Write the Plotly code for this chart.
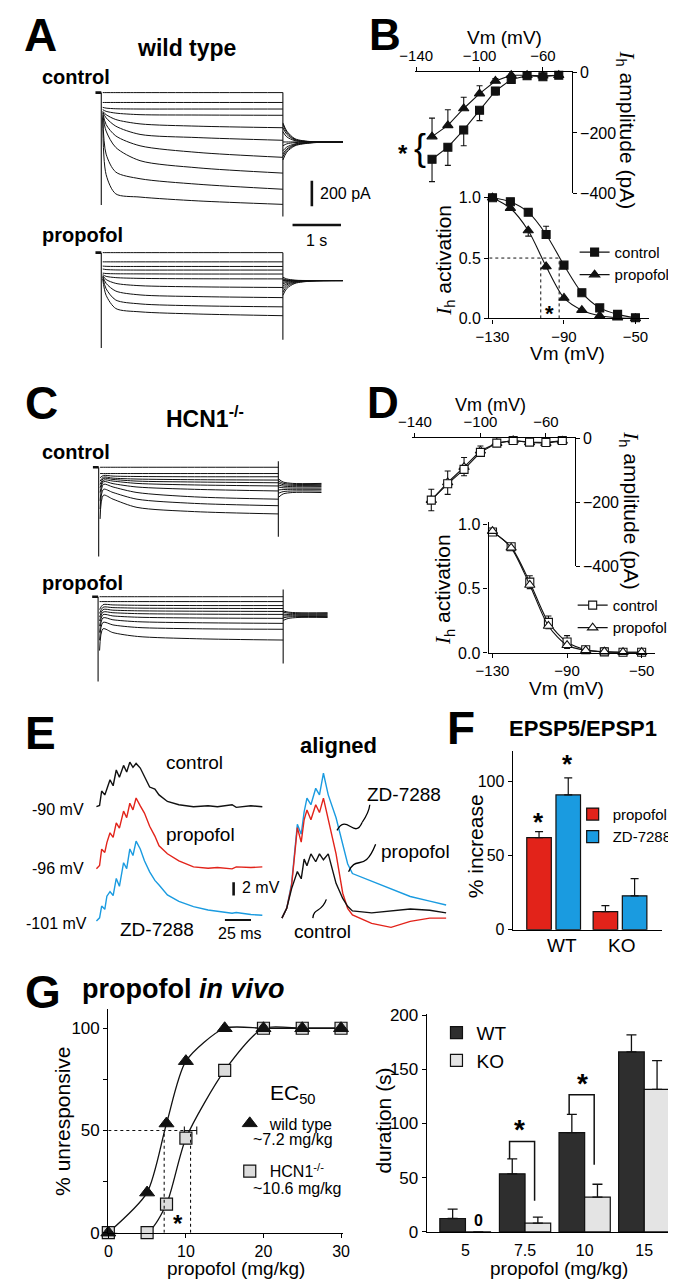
import plotly.graph_objects as go

W, H = 676, 1280
SANS = "Liberation Sans, Arial, Helvetica, sans-serif"
BLACK = "#111111"
RED = "#e2231a"
BLUE = "#1a9be0"
DARK = "#2e2e2e"
LIGHT = "#e4e4e4"

# ======================= DATA =======================
# --- A / C : whole-cell current traces (pA) at knot times (s) after step onset
STEP_DUR = 3.75
trace_t = [0.03, 0.1, 0.3, 0.8, 2.0, 3.75]
A_ctrl = [
    [0, 0, 0, 0, 0, 0],
    [-77, -77, -77, -77, -77, -77],
    [-115, -121, -126, -128, -128, -128],
    [-133, -146, -160, -172, -175, -177],
    [-146, -172, -210, -244, -262, -274],
    [-151, -197, -262, -326, -351, -372],
    [-159, -249, -338, -415, -467, -505],
    [-172, -300, -428, -531, -587, -628],
    [-185, -480, -620, -672, -715, -754],
    [-197, -640, -790, -815, -845, -872],
]
A_prop = [
    [0, 0, 0, 0, 0, 0],
    [-72, -72, -72, -72, -72, -72],
    [-105, -107, -108, -108, -108, -108],
    [-128, -132, -135, -136, -136, -136],
    [-160, -163, -165, -166, -167, -167],
    [-172, -185, -195, -201, -204, -205],
    [-180, -210, -240, -258, -267, -272],
    [-185, -240, -300, -330, -343, -351],
    [-192, -282, -370, -400, -415, -423],
    [-205, -333, -436, -462, -479, -492],
]
C_ctrl = [
    [0, 0, 0, 0, 0, 0],
    [-49, -49, -49, -49, -49, -49],
    [-82, -64, -69, -72, -74, -74],
    [-108, -77, -85, -92, -97, -100],
    [-133, -87, -95, -108, -115, -121],
    [-159, -100, -108, -126, -138, -146],
    [-197, -113, -128, -154, -172, -185],
    [-262, -133, -154, -197, -231, -249],
    [-326, -172, -197, -249, -282, -300],
    [-403, -218, -249, -313, -346, -364],
]
C_prop = [
    [0, 0, 0, 0, 0, 0],
    [-38, -38, -38, -38, -38, -38],
    [-100, -62, -64, -67, -69, -69],
    [-130, -82, -85, -89, -91, -92],
    [-160, -100, -105, -110, -113, -115],
    [-190, -120, -125, -132, -136, -138],
    [-230, -140, -150, -160, -166, -169],
    [-280, -165, -180, -195, -203, -208],
    [-340, -200, -220, -240, -250, -254],
    [-420, -250, -280, -310, -328, -338],
]
# tail currents after the step (s after step end, pA)
tail_t_A = [0, 0.08, 0.25, 0.6, 1.24]
A_ctrl_tail = [
    [-236, -300, -360, -383, -385],
    [-249, -310, -365, -384, -385],
    [-274, -325, -370, -384, -385],
    [-305, -345, -375, -385, -385],
    [-385, -385, -385, -385, -385],
    [-415, -400, -390, -386, -385],
    [-454, -425, -400, -388, -385],
    [-479, -440, -405, -390, -385],
    [-500, -452, -410, -390, -385],
    [-526, -465, -415, -392, -385],
]
A_prop_tail = [
    [-192, -205, -215, -218, -218],
    [-205, -212, -217, -218, -218],
    [-213, -216, -218, -218, -218],
    [-218, -218, -218, -218, -218],
    [-231, -225, -220, -218, -218],
    [-244, -232, -222, -219, -218],
    [-262, -242, -226, -219, -218],
    [-282, -252, -230, -220, -218],
    [-308, -265, -235, -221, -218],
    [-333, -280, -240, -222, -218],
]
tail_t_C = [0, 0.1, 0.3, 0.9]
C_ctrl_tail = [
    [-90, -115, -126, -126],
    [-108, -125, -133, -133],
    [-121, -136, -141, -141],
    [-138, -147, -151, -151],
    [-154, -160, -162, -162],
    [-177, -174, -172, -172],
    [-203, -190, -185, -185],
    [-236, -208, -197, -197],
]
C_prop_tail = [
    [-110, -120, -125, -125],
    [-120, -128, -132, -132],
    [-135, -139, -140, -140],
    [-150, -149, -148, -148],
    [-165, -158, -155, -155],
    [-185, -170, -162, -162],
]
# capacitive transients (pA): onset minimum, offset top, offset bottom  [A ctrl, A prop, C ctrl, C prop]
cap_onset = [-877, -744, -697, -662]
cap_off_top = [0, 0, 46, 56]
cap_off_bot = [-966, -680, -543, -521]
SCALE_A = (1.0, 200)  # s, pA

# --- B / D : I-V and activation
Vm = [-130, -120, -110, -100, -90, -80, -70, -60, -50]
B_iv_ctrl = [-287, -247, -190, -125, -61, -23, -11, -14, -9]
B_iv_ctrl_err = [74, 60, 52, 34, 13, 5, 3, 3, 3]
B_iv_prop = [-212, -175, -119, -70, -28, -9, -9, -11, -9]
B_iv_prop_err = [61, 52, 37, 26, 8, 3, 3, 3, 3]
B_act_ctrl = [1.0, 0.967, 0.880, 0.695, 0.441, 0.213, 0.087, 0.033, 0.005]
B_act_ctrl_err = [0, 0.01, 0.027, 0.068, 0.01, 0, 0, 0, 0]
B_act_prop = [1.0, 0.913, 0.728, 0.43, 0.169, 0.068, 0.022, 0.005, 0.0]
B_act_prop_err = [0, 0.01, 0.046, 0.02, 0.01, 0, 0, 0, 0]
B_vhalf = [-92.7, -103.0]

D_iv_ctrl = [-193, -142, -97, -44, -15, -7, -12, -13, -7]
D_iv_ctrl_err = [33, 33, 20, 10, 5, 3, 3, 3, 3]
D_iv_prop = [-193, -138, -90, -39, -15, -7, -13, -15, -8]
D_iv_prop_err = [34, 36, 30, 15, 5, 3, 3, 3, 3]
D_act_ctrl = [0.944, 0.828, 0.552, 0.238, 0.085, 0.025, 0.008, 0.005, 0.005]
D_act_ctrl_err = [0.01, 0.01, 0.05, 0.05, 0.05, 0.01, 0.03, 0.01, 0.01]
D_act_prop = [0.95, 0.82, 0.53, 0.21, 0.06, 0.02, 0.01, 0.005, 0.005]

# --- E : EPSP trains (ms, mV above baseline)
t_E = [0, 3, 5, 8, 10, 13, 16, 19, 22, 26, 29, 32, 35, 38, 42, 46, 51, 56, 60, 68, 79, 93, 107, 116, 130, 134, 148, 159]
E_ctrl = [0, 0.2, 2.4, 1.8, 2.7, 4.1, 3.2, 5.6, 4.5, 6.3, 5.3, 6.8, 6.0, 6.6, 5.9, 4.5, 3.0, 2.7, 1.8, 0.8, 0.3, 0, 0.15, 0, 0.3, -0.1, 0.15, 0]
E_prop = [0, 0.5, 3.0, 2.5, 4.0, 5.5, 4.8, 7.0, 6.2, 8.8, 7.8, 10.0, 9.0, 10.8, 9.6, 8.5, 6.5, 5.0, 3.5, 2.3, 1.2, 0.3, 0.1, 0.2, 0.0, 0.3, 0.2, 0.3]
E_zd = [0, 0.5, 2.3, 1.8, 3.8, 4.5, 3.9, 6.5, 5.3, 8.9, 8.0, 11.0, 10.0, 12.2, 11.0, 9.2, 7.5, 6.2, 5.5, 4.0, 3.0, 2.2, 1.7, 1.5, 1.2, 1.3, 1.0, 0.9]
E_labels = ["-90 mV", "-96 mV", "-101 mV"]
t_al = [0, 4.6, 9.3, 14.8, 18.5, 21.3, 24, 27.8, 32.4, 36, 39.8, 44.4, 51.9, 58.3, 63, 67.6, 86, 104.6, 123, 141.7, 157.4]
Al_zd = [0, 1.5, 5.3, 14.3, 12.8, 16.2, 18.3, 17.3, 19.8, 18.8, 22.1, 18.8, 15.3, 11.3, 8.3, 6.8, 5.6, 4.5, 3.3, 2.6, 2.0]
Al_prop = [0, 1.5, 5.0, 13.8, 11.6, 15.0, 16.5, 15.0, 17.3, 16.1, 18.3, 15.0, 9.8, 3.8, 1.5, 0.5, -0.8, -1.4, -0.5, 0, 0]
Al_ctrl = [0, 1.5, 4.5, 7.1, 6.0, 9.0, 8.0, 9.8, 8.6, 9.8, 8.9, 9.8, 5.3, 3.0, 1.8, 1.1, 0.8, 1.1, 1.4, 1.2, 0.8]
SCALE_E = (25, 2)  # ms, mV

# --- F : EPSP5/EPSP1 % increase
F_groups = ["WT", "KO"]
F_prop = [62.2, 12.2]
F_prop_err = [4.1, 4.0]
F_zd = [91.1, 22.9]
F_zd_err = [11.6, 11.6]

# --- G : propofol in vivo
dose = [0, 5, 7.5, 10, 15, 20, 25, 30]
G_wt = [0, 19.6, 53.4, 83.9, 100, 100, 100, 100]
G_ko = [0, 0, 14, 46.2, 79.4, 100, 100, 100]
EC50 = [7.2, 10.6]
EC50_ko_err = 0.8
dur_doses = ["5", "7.5", "10", "15"]
dur_wt = [12.4, 53.6, 91.5, 166]
dur_wt_err = [8.6, 13.7, 17.0, 15.8]
dur_ko = [0, 8.2, 32.1, 131.5]
dur_ko_err = [0, 5.4, 11.9, 26.5]
sig_top = [83.3, 126.4]        # bracket heights (s)
sig_right_low = [28.7, 62.0]   # bracket right-leg ends (s)

# ======================= FIGURE =======================
fig = go.Figure()
layout = dict(width=W, height=H, margin=dict(l=0, r=0, t=0, b=0),
              paper_bgcolor="white", plot_bgcolor="rgba(0,0,0,0)",
              font=dict(family=SANS, color="black", size=16),
              hovermode=False, showlegend=True, barmode="overlay")
annotations, shapes = [], []
n_ax = [0]


def new_axes(box, xr, yr, xa=None, ya=None):
    n_ax[0] += 1
    i = n_ax[0]
    s = "" if i == 1 else str(i)
    x0, y0, x1, y1 = box
    xd = dict(domain=[x0 / W, x1 / W], range=xr, anchor="y" + s, visible=False, fixedrange=True)
    yd = dict(domain=[1 - y1 / H, 1 - y0 / H], range=yr, anchor="x" + s, visible=False, fixedrange=True)
    if xa:
        xd.update(xa)
    if ya:
        yd.update(ya)
    layout["xaxis" + s] = xd
    layout["yaxis" + s] = yd
    return "x" + s, "y" + s


def lin(p0, p1, ref_p, ref_v, ppu):
    return [ref_v + (p0 - ref_p) / ppu, ref_v + (p1 - ref_p) / ppu]


def liny(top, bottom, ref_p, ref_v, ppu):
    return [ref_v + (ref_p - bottom) / ppu, ref_v + (ref_p - top) / ppu]


def axstyle(size=15, **kw):
    d = dict(visible=True, showline=True, linecolor="black", linewidth=1.3, ticks="outside",
             ticklen=4, tickwidth=1.2, tickcolor="black", showgrid=False, zeroline=False,
             tickfont=dict(size=size, family=SANS, color="black"))
    d.update(kw)
    return d


def line(xr, yr, x, y, color=BLACK, width=1.0, shape="linear", smoothing=1.0):
    fig.add_trace(go.Scatter(x=x, y=y, xaxis=xr, yaxis=yr, mode="lines",
                             line=dict(color=color, width=width, shape=shape, smoothing=smoothing),
                             hoverinfo="skip", showlegend=False, cliponaxis=False))


def txt(x, y, s, size=16, bold=False, xanchor="center", yanchor="middle", angle=0, family=SANS):
    if bold:
        s = "<b>" + s + "</b>"
    annotations.append(dict(x=x / W, y=1 - y / H, xref="paper", yref="paper", text=s, showarrow=False,
                            xanchor=xanchor, yanchor=yanchor, textangle=angle,
                            font=dict(size=size, color="black", family=family)))


def pp(x, y):
    return f"{x / W:.5f},{1 - y / H:.5f}"


def squiggle(pts):
    (a, b, c, d) = pts
    shapes.append(dict(type="path", xref="paper", yref="paper",
                       path=f"M {pp(*a)} C {pp(*b)} {pp(*c)} {pp(*d)}",
                       line=dict(color="black", width=1.3)))


PPU_PA = 0.13  # px per pA


def current_panel(box, t0_px, tend_px, base_py, steps, tails, tail_t, k):
    ppu_t = (tend_px - t0_px) / STEP_DUR
    xr, yr = new_axes(box, lin(box[0], box[2], t0_px, 0, ppu_t), liny(box[1], box[3], base_py, 0, PPU_PA))
    xs, ys = [], []
    for v in steps:
        xs += list(trace_t) + [None]
        ys += list(v) + [None]
    for v in tails:
        xs += [STEP_DUR + t for t in tail_t] + [None]
        ys += list(v) + [None]
    line(xr, yr, xs, ys, width=1.0, shape="spline", smoothing=0.8)
    line(xr, yr, [0, 0, None, STEP_DUR, STEP_DUR],
         [0, cap_onset[k], None, cap_off_top[k], cap_off_bot[k]], width=1.1)
    line(xr, yr, [-0.12, 0], [0, 0], width=2.6)
    return xr, yr, ppu_t


# ---- Panel A
ax, ay, ppu = current_panel((55, 60, 340, 215), 80, 268, 77.7, A_ctrl, A_ctrl_tail, tail_t_A, 0)
sb_t = (298 - 80) / ppu
sb_v = (77.7 - 167) / PPU_PA
line(ax, ay, [sb_t, sb_t], [sb_v, sb_v - SCALE_A[1]], width=2.6)
sh_t = (278 - 80) / ppu
sh_v = (77.7 - 212) / PPU_PA
line(ax, ay, [sh_t, sh_t + SCALE_A[0]], [sh_v, sh_v], width=2.6)
current_panel((55, 232, 340, 340), 80, 268, 240, A_prop, A_prop_tail, tail_t_A, 1)
txt(17, 19, "A", 46, True)
txt(168, 32, "wild type", 23, True)
txt(17, 62, "control", 20, True, xanchor="left")
txt(17, 222, "propofol", 20, True, xanchor="left")
txt(304, 180, "200 pA", 16, xanchor="left")
txt(303, 228, "1 s", 16)

# ---- Panel C
current_panel((55, 440, 340, 560), 77.3, 263.3, 457.7, C_ctrl, C_ctrl_tail, tail_t_C, 2)
current_panel((55, 575, 340, 680), 76.7, 268.3, 589, C_prop, C_prop_tail, tail_t_C, 3)
txt(18, 393, "C", 46, True)
txt(187, 407, "HCN1<sup>-/-</sup>", 23, True)
txt(17, 442, "control", 20, True, xanchor="left")
txt(17, 575, "propofol", 20, True, xanchor="left")

IH = "<span style=\"font-family:Liberation Serif\"><i>I</i></span><sub>h</sub>"


def iv_panel(box, ref_px, ppu_x, ctrl, ctrl_err, prop, prop_err, filled):
    xr, yr = new_axes(box, lin(box[0], box[2], ref_px, -140, ppu_x), [-400, 0],
                      xa=axstyle(side="top", tickvals=[-140, -100, -60]),
                      ya=axstyle(side="right", tickvals=[0, -200, -400], size=16))
    zeros = [0] * len(Vm)
    fill = BLACK if filled else "white"
    fig.add_trace(go.Scatter(x=Vm, y=prop, xaxis=xr, yaxis=yr, mode="lines+markers",
                             line=dict(color=BLACK, width=1.1),
                             marker=dict(symbol="triangle-up", size=9,
                                         color=fill, line=dict(width=1.1, color=BLACK)),
                             error_y=dict(type="data", symmetric=False, array=prop_err, arrayminus=zeros,
                                          color=BLACK, thickness=1.1, width=3),
                             showlegend=False, cliponaxis=False, hoverinfo="skip"))
    fig.add_trace(go.Scatter(x=Vm, y=ctrl, xaxis=xr, yaxis=yr, mode="lines+markers",
                             line=dict(color=BLACK, width=1.1),
                             marker=dict(symbol="square", size=8,
                                         color=fill, line=dict(width=1.1, color=BLACK)),
                             error_y=dict(type="data", symmetric=False, array=zeros, arrayminus=ctrl_err,
                                          color=BLACK, thickness=1.1, width=3),
                             showlegend=False, cliponaxis=False, hoverinfo="skip"))


def act_panel(box, ppu_x, y_top, ctrl, ctrl_up, ctrl_dn, prop, prop_up, prop_dn, filled, leg):
    xr, yr = new_axes(box, lin(box[0], box[2], 485, -130, ppu_x), [0, y_top],
                      xa=axstyle(tickvals=[-130, -90, -50]),
                      ya=axstyle(tickvals=[0, 0.5, 1.0], tickformat=".1f", size=16))
    fill = BLACK if filled else "white"
    fig.add_trace(go.Scatter(x=Vm, y=ctrl, xaxis=xr, yaxis=yr, mode="lines+markers", name="control",
                             legend=leg, legendrank=1,
                             line=dict(color=BLACK, width=1.1, shape="spline", smoothing=0.8),
                             marker=dict(symbol="square", size=8, color=fill, line=dict(width=1.1, color=BLACK)),
                             error_y=dict(type="data", symmetric=False, array=ctrl_up, arrayminus=ctrl_dn,
                                          color=BLACK, thickness=1.1, width=3),
                             cliponaxis=False, hoverinfo="skip"))
    fig.add_trace(go.Scatter(x=Vm, y=prop, xaxis=xr, yaxis=yr, mode="lines+markers", name="propofol",
                             legend=leg, legendrank=2,
                             line=dict(color=BLACK, width=1.1, shape="spline", smoothing=0.8),
                             marker=dict(symbol="triangle-up", size=9, color=fill, line=dict(width=1.1, color=BLACK)),
                             error_y=dict(type="data", symmetric=False, array=prop_up, arrayminus=prop_dn,
                                          color=BLACK, thickness=1.1, width=3),
                             cliponaxis=False, hoverinfo="skip"))
    return xr, yr


zeros9 = [0] * 9
# ---- Panel B
iv_panel((405, 57.3, 567, 180), 406, 1.64, B_iv_ctrl, B_iv_ctrl_err, B_iv_prop, B_iv_prop_err, True)
bxr, byr = act_panel((481.7, 182, 646.7, 306.7), 1.85, (306.7 - 182) / 122.4, B_act_ctrl, B_act_ctrl_err, zeros9,
                     B_act_prop, zeros9, B_act_prop_err, True, "legend")
x_axis_left = layout["xaxis" + bxr[1:]]["range"][0]
for d in [dict(x0=x_axis_left, x1=B_vhalf[0], y0=0.5, y1=0.5),
          dict(x0=B_vhalf[0], x1=B_vhalf[0], y0=0, y1=0.5),
          dict(x0=B_vhalf[1], x1=B_vhalf[1], y0=0, y1=0.5)]:
    shapes.append(dict(type="line", xref=bxr, yref=byr, line=dict(color=BLACK, width=1, dash="dot"), **d))
txt(374, 19, "B", 44, True)
txt(497, 22, "Vm (mV)", 19)
txt(623, 116, IH + " amplitude (pA)", 21, angle=90)
txt(435, 248, IH + " activation", 21, angle=-90)
txt(563, 342, "Vm (mV)", 19)
txt(392, 139, "*", 24, True)
txt(410, 133, "{", 36)
txt(544, 302, "*", 22, True)

# ---- Panel D
iv_panel((401.7, 428.3, 570, 558.3), 404.7, 1.695, D_iv_ctrl, D_iv_ctrl_err, D_iv_prop, D_iv_prop_err, False)
dxr, dyr = act_panel((481, 513, 653.3, 646), 1.93, (646 - 513) / 130, D_act_ctrl, D_act_ctrl_err, D_act_ctrl_err,
                     D_act_prop, zeros9, zeros9, False, "legend2")
txt(372, 392, "D", 44, True)
txt(483, 395, "Vm (mV)", 18)
txt(627, 502, IH + " amplitude (pA)", 21, angle=90)
txt(435, 582, IH + " activation", 21, angle=-90)
txt(562, 682, "Vm (mV)", 19)

# ---- Panel E
PPU_MS, PPU_MV = 1.08, 6.65
exr, eyr = new_axes((66, 745, 258, 935), lin(66, 258, 75, 0, PPU_MS), liny(745, 935, 918, 0, PPU_MV))
off_ctrl = (918 - 802) / PPU_MV
off_prop = (918 - 865) / PPU_MV
line(exr, eyr, t_E, [v + off_ctrl for v in E_ctrl], BLACK, 1.4)
line(exr, eyr, t_E, [v + off_prop for v in E_prop], RED, 1.4)
line(exr, eyr, t_E, E_zd, BLUE, 1.4)
sv_t = (217 - 75) / PPU_MS
sv_v = (918 - 892) / PPU_MV
line(exr, eyr, [sv_t, sv_t], [sv_v, sv_v + SCALE_E[1]], BLACK, 2.6)
sh_t = (208 - 75) / PPU_MS
sh_v = (918 - 917) / PPU_MV
line(exr, eyr, [sh_t, sh_t + SCALE_E[0]], [sh_v, sh_v], BLACK, 2.0)
axr, ayr = new_axes((262, 755, 440, 935), lin(262, 440, 267, 0, PPU_MS), liny(755, 935, 915, 0, PPU_MV))
line(axr, ayr, t_al, Al_zd, BLUE, 1.4)
line(axr, ayr, t_al, Al_prop, RED, 1.4)
line(axr, ayr, t_al, Al_ctrl, BLACK, 1.4)
txt(17, 727, "E", 46, True)
txt(64, 805, E_labels[0], 16, xanchor="right")
txt(64, 865, E_labels[1], 16, xanchor="right")
txt(67, 920, E_labels[2], 16, xanchor="right")
txt(145, 757, "control", 19, xanchor="left")
txt(145, 830, "propofol", 19, xanchor="left")
txt(97, 927, "ZD-7288", 19, xanchor="left")
txt(224, 884, "2 mV", 16, xanchor="left")
txt(224, 931, "25 ms", 16)
txt(326, 740, "aligned", 22, True)
txt(353, 790, "ZD-7288", 19, xanchor="left")
txt(367, 847, "propofol", 19, xanchor="left")
txt(277, 929, "control", 19, xanchor="left")
squiggle([(324, 826), (334, 808), (342, 836), (350, 818)])
shapes.append(dict(type="path", xref="paper", yref="paper",
                   path=f"M {pp(350, 818)} Q {pp(357, 808)} {pp(358, 800)}", line=dict(color="black", width=1.3)))
squiggle([(336, 868), (344, 850), (352, 870), (364, 840)])
squiggle([(299, 915), (300, 904), (308, 910), (313, 896)])

# ---- Panel F
fxr, fyr = new_axes((506, 745, 660, 926.7), lin(506, 660, 548.3, 0, 68.7), liny(745, 926.7, 926.7, 0, 1.5),
                    xa=axstyle(ticks="", showticklabels=False),
                    ya=axstyle(tickvals=[0, 50, 100], size=16))
fig.add_trace(go.Bar(x=[0, 1], y=F_prop, xaxis=fxr, yaxis=fyr, name="propofol", legend="legend3",
                     offset=-0.405, width=0.37, marker=dict(color=RED, line=dict(color=BLACK, width=1.2)),
                     error_y=dict(type="data", symmetric=False, array=F_prop_err, arrayminus=[0, 0],
                                  color=BLACK, thickness=1.2, width=4), hoverinfo="skip"))
fig.add_trace(go.Bar(x=[0, 1], y=F_zd, xaxis=fxr, yaxis=fyr, name="ZD-7288", legend="legend3",
                     offset=0.035, width=0.37, marker=dict(color=BLUE, line=dict(color=BLACK, width=1.2)),
                     error_y=dict(type="data", symmetric=False, array=F_zd_err, arrayminus=[0, 0],
                                  color=BLACK, thickness=1.2, width=4), hoverinfo="skip"))
txt(452, 722, "F", 46, True)
txt(500, 723, "EPSP5/EPSP1", 22, True, xanchor="left")
txt(467, 842, "% increase", 21, angle=-90)
txt(532.7, 817, "*", 26, True)
txt(563, 759, "*", 26, True)
txt(556.7, 943, F_groups[0], 19)
txt(618.3, 943, F_groups[1], 19)

# ---- Panel G left
gxr, gyr = new_axes((87.3, 1006.7, 330, 1234), lin(87.3, 330, 87.3, 0, 8.03), liny(1006.7, 1234, 1234, 0, 2.073),
                    xa=axstyle(tickvals=[0, 10, 20, 30], size=16, ticklabelstandoff=0),
                    ya=axstyle(tickvals=[0, 50, 100], size=17,
                               minor=dict(tickvals=[25, 75], ticks="outside", ticklen=4, tickwidth=1.2,
                                          tickcolor="black")))
for d in [dict(x0=0, x1=EC50[1], y0=50, y1=50),
          dict(x0=EC50[0], x1=EC50[0], y0=0, y1=50),
          dict(x0=EC50[1], x1=EC50[1], y0=0, y1=50)]:
    shapes.append(dict(type="line", xref=gxr, yref=gyr, line=dict(color=BLACK, width=1.1, dash="dot"), **d))
line(gxr, gyr, dose, G_ko, BLACK, 1.3, "spline", 0.7)
line(gxr, gyr, dose, G_wt, BLACK, 1.3, "spline", 0.7)
fig.add_trace(go.Scatter(x=[EC50[1]], y=[50], xaxis=gxr, yaxis=gyr, mode="markers", marker=dict(size=1, opacity=0),
                         error_x=dict(type="data", array=[EC50_ko_err], color=BLACK, thickness=1.1, width=4),
                         showlegend=False, hoverinfo="skip", cliponaxis=False))
fig.add_trace(go.Scatter(x=dose, y=G_ko, xaxis=gxr, yaxis=gyr, mode="markers", name="HCN1<sup>-/-</sup>",
                         legend="legend5", legendgroup="ko", legendrank=2,
                         marker=dict(symbol="square", size=12, color="#dcdcdc", line=dict(color=BLACK, width=1.2)),
                         cliponaxis=False, hoverinfo="skip"))
fig.add_trace(go.Scatter(x=dose, y=G_wt, xaxis=gxr, yaxis=gyr, mode="markers", name="wild type",
                         legend="legend5", legendgroup="wt", legendrank=1,
                         marker=dict(symbol="triangle-up", size=13, color=BLACK, line=dict(color=BLACK, width=1)),
                         cliponaxis=False, hoverinfo="skip"))
txt(20, 990, "G", 46, True)
txt(58, 987, "propofol <i>in vivo</i>", 27, True, xanchor="left")
txt(40, 1121, "% unresponsive", 21, angle=-90)
txt(219, 1270, "propofol (mg/kg)", 19)
txt(278, 1093, "EC<sub>50</sub>", 21)
txt(278, 1140, f"~{EC50[0]} mg/kg", 16)
txt(283, 1189, f"~{EC50[1]} mg/kg", 16)
txt(159, 1225, "*", 24, True)

# ---- Panel G right
hxr, hyr = new_axes((417, 1012, 672, 1233.3), lin(417, 672, 457, 0, 61.7), liny(1012, 1233.3, 1233.3, 0, 1.1),
                    xa=axstyle(ticks="", tickvals=[0, 1, 2, 3], ticktext=dur_doses, size=16, ticklabelstandoff=4),
                    ya=axstyle(tickvals=[0, 50, 100, 150, 200], size=17))
fig.add_trace(go.Bar(x=[0, 1, 2, 3], y=dur_wt, xaxis=hxr, yaxis=hyr, name="WT", legend="legend4",
                     offset=-0.43, width=0.43, marker=dict(color=DARK, line=dict(color=BLACK, width=1.2)),
                     error_y=dict(type="data", symmetric=False, array=dur_wt_err, arrayminus=[0] * 4,
                                  color=BLACK, thickness=1.3, width=5), hoverinfo="skip"))
fig.add_trace(go.Bar(x=[0, 1, 2, 3], y=dur_ko, xaxis=hxr, yaxis=hyr, name="KO", legend="legend4",
                     offset=0.0, width=0.43, marker=dict(color=LIGHT, line=dict(color=BLACK, width=1.2)),
                     error_y=dict(type="data", symmetric=False, array=dur_ko_err, arrayminus=[0] * 4,
                                  color=BLACK, thickness=1.3, width=5), hoverinfo="skip"))
for k, i in enumerate([1, 2]):
    xl, xr_ = i - 0.26, i + 0.16
    yl = dur_wt[i] + dur_wt_err[i]
    shapes.append(dict(type="path", xref=hxr, yref=hyr,
                       path=f"M {xl},{yl} L {xl},{sig_top[k]} L {xr_},{sig_top[k]} L {xr_},{sig_right_low[k]}",
                       line=dict(color=BLACK, width=1.5)))
txt(513, 1129, "*", 28, True)
txt(577.7, 1083, "*", 28, True)
txt(470.7, 1222, "0", 16, True)
txt(372, 1120, "duration (s)", 21, angle=-90)
txt(554, 1270, "propofol (mg/kg)", 19)

# ---- legends
leg_common = dict(bgcolor="rgba(0,0,0,0)", borderwidth=0, xanchor="left", yanchor="top",
                  itemclick=False, itemdoubleclick=False)
layout["legend"] = dict(x=570 / W, y=1 - 223 / H, font=dict(size=15, family=SANS), traceorder="normal", **leg_common)
layout["legend2"] = dict(x=568 / W, y=1 - 581 / H, font=dict(size=15, family=SANS), traceorder="normal", **leg_common)
layout["legend3"] = dict(x=568 / W, y=1 - 793 / H, font=dict(size=15, family=SANS), traceorder="normal", **leg_common)
layout["legend4"] = dict(x=427 / W, y=1 - 1012 / H, font=dict(size=19, family=SANS), traceorder="normal", **leg_common)
layout["legend5"] = dict(x=213 / W, y=1 - 1106 / H, font=dict(size=16, family=SANS), traceorder="grouped",
                         tracegroupgap=24, **leg_common)

layout["annotations"] = annotations
layout["shapes"] = shapes
fig.update_layout(**layout)
fig.write_html("out.html")
